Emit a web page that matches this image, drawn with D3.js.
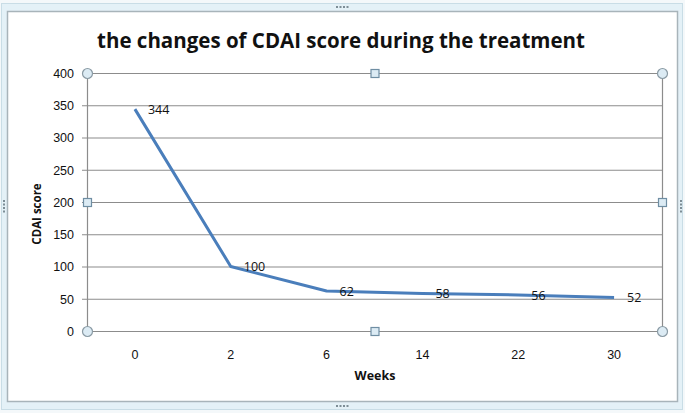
<!DOCTYPE html>
<html><head><meta charset="utf-8">
<script src="https://cdn.jsdelivr.net/npm/d3@7"></script>
<style>
html,body{margin:0;padding:0;background:#fff;}
svg{display:block;font-family:"Open Sans","Noto Sans",sans-serif;}
</style></head>
<body>
<svg id="c" width="685" height="413"></svg>
<script>
const categories = ["0","2","6","14","22","30"];
const values = [344,100,62,58,56,52];
const yTicks = [0,50,100,150,200,250,300,350,400];
const title = "the changes of CDAI score during the treatment";
const xTitle = "Weeks";
const yTitle = "CDAI score";

const svg = d3.select("#c");
const W=685,H=413;
svg.append("rect").attr("x",0).attr("y",0).attr("width",W).attr("height",H).attr("fill","#f4f8fa");
svg.append("rect").attr("x",1.5).attr("y",3.5).attr("width",W-4).attr("height",H-7).attr("fill","#e4f1f7").attr("stroke","#c9dde6");
svg.append("rect").attr("x",7.5).attr("y",11.5).attr("width",W-15).attr("height",H-23).attr("fill","#fff").attr("stroke","#a8b4ba").attr("stroke-width",1.5);
function grip(cx,cy,vertical){
  for(let i=0;i<4;i++){
    svg.append("rect").attr("x",vertical?cx-1:cx-6+i*3.5).attr("y",vertical?cy-6+i*3.5:cy-1).attr("width",2).attr("height",2).attr("fill","#7d8d96");
  }
}
grip(342,7,false); grip(342,406,false); grip(4,206,true); grip(681,206,true);

const m={l:87,r:662,t:73,b:331};
const x=d3.scaleBand().domain(categories).range([m.l,m.r]);
const y=d3.scaleLinear().domain([0,400]).range([m.b,m.t]);

svg.append("g").selectAll("line").data(yTicks).join("line")
  .attr("x1",m.l).attr("x2",m.r).attr("y1",d=>y(d)+0.5).attr("y2",d=>y(d)+0.5)
  .attr("stroke","#8c8c8c").attr("stroke-width",1.2);
const ya=svg.append("g").attr("transform",`translate(${m.l},0)`)
  .call(d3.axisLeft(y).tickValues(yTicks).tickSize(5).tickPadding(8));
ya.select(".domain").attr("stroke","#8c8c8c").attr("stroke-width",1.2);
ya.selectAll(".tick line").attr("stroke","#8c8c8c");
ya.selectAll("text").attr("font-size",12.5).attr("fill","#111").attr("dy","0.35em");
svg.append("line").attr("x1",m.r+0.5).attr("x2",m.r+0.5).attr("y1",m.t).attr("y2",m.b).attr("stroke","#8c8c8c").attr("stroke-width",1.2);
const xa=svg.append("g").attr("transform",`translate(0,${m.b})`)
  .call(d3.axisBottom(x).tickSize(0).tickPadding(19));
xa.select(".domain").remove();
xa.selectAll("text").attr("font-size",12.5).attr("fill","#111");

const line=d3.line().x((d,i)=>x(categories[i])+x.bandwidth()/2).y(d=>y(d));
svg.append("path").datum(values).attr("d",line).attr("fill","none")
  .attr("stroke","#4a7ebb").attr("stroke-width",3).attr("stroke-linejoin","round");
svg.append("g").selectAll("text").data(values).join("text")
  .attr("x",(d,i)=>x(categories[i])+x.bandwidth()/2+13)
  .attr("y",d=>y(d)).attr("dy","0.38em")
  .attr("font-size",12.5).attr("fill","#111").text(d=>d);

svg.append("text").attr("x",341).attr("y",48).attr("text-anchor","middle")
  .attr("font-size",20.5).attr("font-weight","bold").attr("fill","#111").text(title);
svg.append("text").attr("x",375).attr("y",380).attr("text-anchor","middle")
  .attr("font-size",12.5).attr("font-weight","bold").attr("fill","#111").text(xTitle);
svg.append("text").attr("transform","translate(41,214) rotate(-90)").attr("text-anchor","middle")
  .attr("font-size",11.5).attr("font-weight","bold").attr("fill","#111").text(yTitle);

const corners=[[m.l,m.t],[m.r,m.t],[m.l,m.b],[m.r,m.b]];
svg.append("g").selectAll("circle").data(corners).join("circle")
  .attr("cx",d=>d[0]+0.5).attr("cy",d=>d[1]+0.5).attr("r",5)
  .attr("fill","#dcebf4").attr("stroke","#8a9aa4").attr("stroke-width",1.2);
const mids=[[(m.l+m.r)/2,m.t],[(m.l+m.r)/2,m.b],[m.l,(m.t+m.b)/2],[m.r,(m.t+m.b)/2]];
svg.append("g").selectAll("rect").data(mids).join("rect")
  .attr("x",d=>d[0]-3.5).attr("y",d=>d[1]-3.5).attr("width",8).attr("height",8)
  .attr("fill","#dcebf4").attr("stroke","#6f8ea3").attr("stroke-width",1.2);
</script>
</body></html>
